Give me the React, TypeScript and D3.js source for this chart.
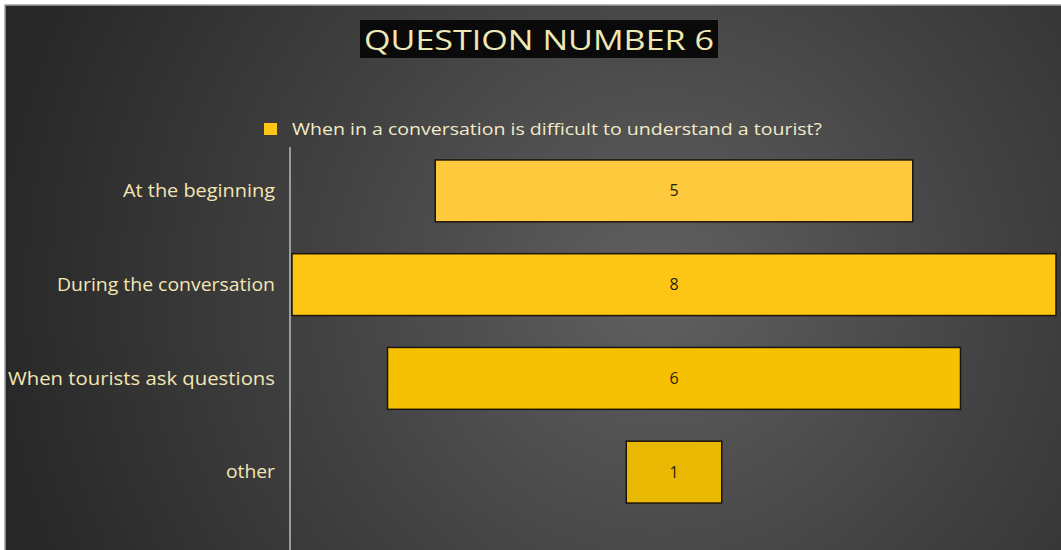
import React from "react";
import * as d3 from "d3";

const categories = ["At the beginning", "During the conversation", "When tourists ask questions", "other"];
const values = [5, 8, 6, 1];
const seriesName = "When in a conversation is difficult to understand a tourist?";
const title = "QUESTION NUMBER 6";

const W = 1061;
const H = 550;

export default function App() {
  const axisX = 290;
  const plotRight = 1056;
  const center = (axisX + 2 + plotRight) / 2;
  const xw = d3.scaleLinear().domain([0, d3.max(values) as number]).range([0, plotRight - axisX - 2]);
  const y = d3.scaleBand<string>().domain(categories).range([144, 519]).paddingInner(0.34).paddingOuter(0.17);
  const colors = d3.scaleOrdinal<string, string>().domain(categories).range(["#FEC93C", "#FEC614", "#F6C102", "#E9B802"]);
  const labelWidths = d3.scaleOrdinal<string, number>().domain(categories).range([152, 218, 267, 49]);
  const font = "'Open Sans', 'Noto Sans', sans-serif";

  return (
    <div style={{ position: "absolute", left: 0, top: 0 }}>
      <svg width={W} height={H} style={{ display: "block" }}>
        <defs>
          <radialGradient id="bg" cx="660" cy="290" r="680" gradientUnits="userSpaceOnUse">
            <stop offset="0" stopColor="#606060" />
            <stop offset="0.5" stopColor="#424242" />
            <stop offset="1" stopColor="#272727" />
          </radialGradient>
        </defs>
        <rect x={0} y={0} width={W} height={H} fill="#ffffff" />
        <rect x={5} y={5} width={W - 4} height={H - 4} fill="url(#bg)" stroke="#a0a0a0" strokeWidth={1.5} />
        {/* title */}
        <rect x={360} y={20} width={358} height={38} fill="#0a0a0a" />
        <text x={539} y={50} textAnchor="middle" fill="#EEE9B4" fontFamily={font} fontSize={27} textLength={350} lengthAdjust="spacingAndGlyphs">
          {title}
        </text>
        {/* legend */}
        <rect x={264} y={123} width={13} height={12} fill="#FEC614" />
        <text x={292} y={135} fill="#F2EAC8" fontFamily={font} fontSize={16} textLength={530} lengthAdjust="spacingAndGlyphs">
          {seriesName}
        </text>
        {/* axis */}
        <line x1={axisX} x2={axisX} y1={147} y2={H} stroke="#bdbdbd" strokeWidth={1.5} />
        {categories.map((c, i) => {
          const w = xw(values[i]);
          const yy = y(c) as number;
          const bh = y.bandwidth();
          return (
            <g key={c}>
              <text x={275} y={yy + bh / 2} dy="0.35em" textAnchor="end" fill="#F2E6B4" fontFamily={font} fontSize={17.5}
                textLength={labelWidths(c)} lengthAdjust="spacingAndGlyphs">
                {c}
              </text>
              <rect x={center - w / 2} y={yy} width={w} height={bh} fill={colors(c)} stroke="#1c1408" strokeWidth={1.5} />
              <text x={center} y={yy + bh / 2} dy="0.35em" textAnchor="middle" fill="#2a1f0a" fontFamily={font} fontSize={16}>
                {values[i]}
              </text>
            </g>
          );
        })}
      </svg>
    </div>
  );
}
